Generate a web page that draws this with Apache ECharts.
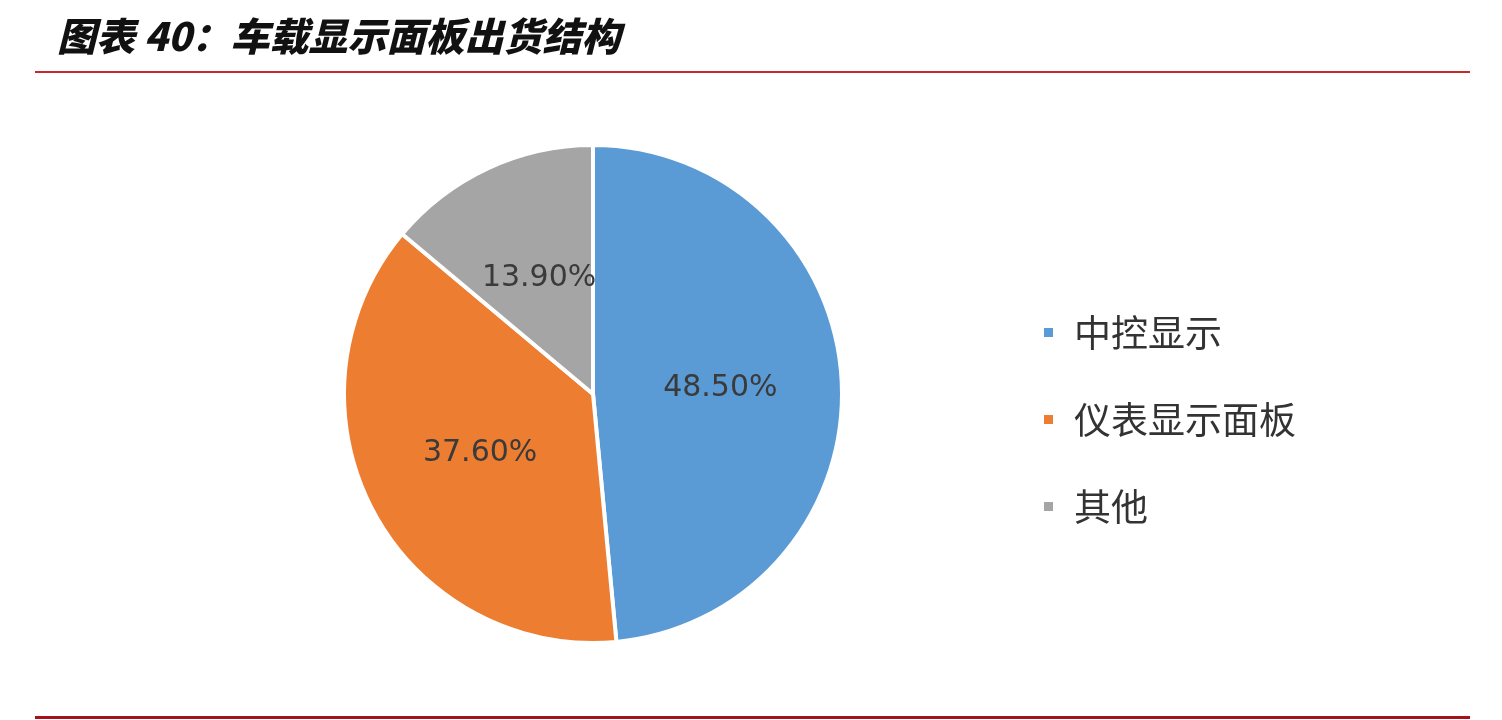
<!DOCTYPE html>
<html><head><meta charset="utf-8">
<script src="https://cdn.jsdelivr.net/npm/echarts@6/dist/echarts.min.js"></script>
<style>html,body{margin:0;padding:0;background:#fff}#c{width:1502px;height:720px}</style>
</head><body><div id="c"></div>
<script>
const titleText = '图表 40：车载显示面板出货结构';
const categories = ['中控显示', '仪表显示面板', '其他'];
const values = [48.5, 37.6, 13.9];
const colors = ['#5B9BD5', '#ED7D31', '#A5A5A5'];

const chart = echarts.init(document.getElementById('c'));
chart.setOption({
  backgroundColor: '#ffffff',
  animation: false,
  title: {
    text: titleText, left: 52, top: 12,
    textStyle: { fontFamily: 'Noto Sans CJK SC', fontSize: 39, fontWeight: 900, fontStyle: 'italic', color: '#111' }
  },
  graphic: [
    { type: 'rect', shape: { x: 35, y: 71, width: 1435, height: 2 }, style: { fill: '#c8282a' } },
    { type: 'rect', shape: { x: 35, y: 716, width: 1435, height: 3 }, style: { fill: '#a8101a' } }
  ],
  legend: {
    orient: 'vertical', left: 1037, top: 309,
    icon: 'rect', itemWidth: 11, itemHeight: 11, itemGap: 50,
    textStyle: { fontFamily: 'Noto Sans CJK SC', fontSize: 37, color: '#333', padding: [0, 0, 0, 15] },
    data: categories
  },
  series: [{
    type: 'pie',
    center: [593, 394], radius: 249,
    startAngle: 90, clockwise: true,
    itemStyle: { borderColor: '#fff', borderWidth: 4 },
    label: {
      position: 'inside', formatter: p => p.value.toFixed(2) + '%',
      fontFamily: 'DejaVu Sans', fontSize: 30, color: '#3a3a3a'
    },
    labelLine: { show: false },
    emphasis: { disabled: true },
    data: categories.map((n, i) => ({ name: n, value: values[i], itemStyle: { color: colors[i] } }))
  }]
});
</script></body></html>
